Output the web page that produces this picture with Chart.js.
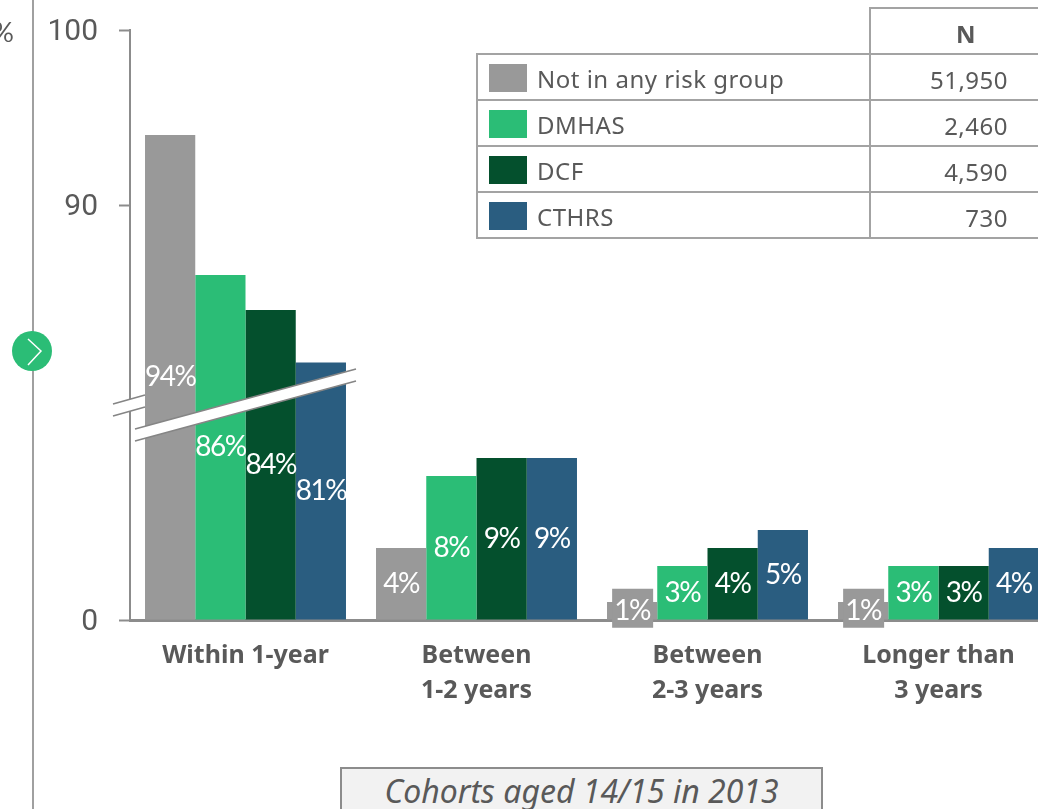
<!DOCTYPE html>
<html>
<head>
<meta charset="utf-8">
<title>Cohorts aged 14/15 in 2013</title>
<script src="https://cdn.jsdelivr.net/npm/chart.js@4"></script>
<style>
    html, body { margin: 0; padding: 0; background: #fff; }
    body { width: 1038px; height: 809px; overflow: hidden; position: relative; font-family: "Noto Sans", sans-serif; color: #595959; }
    #chart-canvas { position: absolute; left: 0; top: 0; }
    #percent-sign { position: absolute; right: 1024px; top: 15px; font-family: Lato, sans-serif; font-size: 27px; white-space: nowrap; }
    #group-table { position: absolute; left: 476px; top: 7px; width: 595px; table-layout: fixed; border-collapse: collapse; font-size: 24px; letter-spacing: 0.5px; }
    #group-table td { border: 2px solid #a3a3a3; height: 46px; padding: 5px 0 0 0; box-sizing: border-box; line-height: 30px; }
    #group-table td.name { width: 395px; white-space: nowrap; }
    #group-table td.count { width: 200px; text-align: right; padding-right: 61px; }
    #group-table td.blank { border-top: none; border-left: none; }
    #group-table td.head { text-align: center; font-weight: bold; padding-right: 8px; }
    #group-table .swatch { display: inline-block; width: 38px; height: 28px; margin: 0 10px 0 11px; vertical-align: middle; position: relative; top: -3px; }
    #cohort-box { position: absolute; left: 340px; top: 767px; width: 483px; height: 60px; box-sizing: border-box; border: 2px solid #8c8c8c; background: #f2f2f2; text-align: center; font-style: italic; font-size: 32px; line-height: 44px; }
</style>
</head>
<body>
<canvas id="chart-canvas" width="1060" height="809"></canvas>
<div id="percent-sign">%</div>
<table id="group-table"></table>
<div id="cohort-box">Cohorts aged 14/15 in 2013</div>

<script>
var categories = [['Within 1-year'], ['Between', '1-2 years'], ['Between', '2-3 years'], ['Longer than', '3 years']];
var groupNames = ['Not in any risk group', 'DMHAS', 'DCF', 'CTHRS'];
var groupCounts = ['51,950', '2,460', '4,590', '730'];
var groupColors = ['#999999', '#2bbd76', '#04502d', '#2a5d80'];

var notInGroup = [94, 4, 1, 1];
var dmhas = [86, 8, 3, 3];
var dcf = [84, 9, 4, 3];
var cthrs = [81, 9, 5, 4];

var yTicks = [0, 90, 100];

// El eje va cortado: tramo bajo y tramo alto con un salto en medio
var breakValues = [0, 10, 80, 90, 100];
var breakFractions = [0, 180 / 590, 240 / 590, 415 / 590, 1];

class BrokenScale extends Chart.LinearScale {
    getPixelForValue(value) {
        for (var i = 1; i < breakValues.length; i++) {
            if (value <= breakValues[i]) {
                var t = (value - breakValues[i - 1]) / (breakValues[i] - breakValues[i - 1]);
                return this.getPixelForDecimal(breakFractions[i - 1] + t * (breakFractions[i] - breakFractions[i - 1]));
            }
        }
        return this.getPixelForDecimal(1);
    }
}
BrokenScale.id = 'brokenLinear';
BrokenScale.defaults = Chart.LinearScale.defaults;
Chart.register(BrokenScale);

// Tabla de grupos con sus colores y N
function buildGroupTable() {
    var html = '<tr><td class="blank"></td><td class="count head">N</td></tr>';
    for (var i = 0; i < groupNames.length; i++) {
        html += '<tr><td class="name"><span class="swatch" style="background:' + groupColors[i] + '"></span>' + groupNames[i] + '</td>' +
            '<td class="count">' + groupCounts[i] + '</td></tr>';
    }
    document.getElementById('group-table').innerHTML = html;
}

// Línea lateral y botón verde de la izquierda
var sidePlugin = {
    id: 'sideMarker',
    beforeDraw: function (chart) {
        var ctx = chart.ctx;
        ctx.save();
        ctx.strokeStyle = '#a0a0a0';
        ctx.lineWidth = 2;
        ctx.beginPath();
        ctx.moveTo(33, 0);
        ctx.lineTo(33, 809);
        ctx.stroke();
        ctx.fillStyle = '#2bbd76';
        ctx.beginPath();
        ctx.arc(32, 351, 20, 0, Math.PI * 2);
        ctx.fill();
        ctx.strokeStyle = '#fff';
        ctx.lineWidth = 1.5;
        ctx.beginPath();
        ctx.moveTo(28, 339);
        ctx.lineTo(41, 351);
        ctx.lineTo(28, 365);
        ctx.stroke();
        ctx.restore();
    }
};

// Franja blanca que marca el corte del eje y de las barras
function drawBand(ctx, x1, y1, x2, y2, gap) {
    ctx.fillStyle = '#fff';
    ctx.beginPath();
    ctx.moveTo(x1, y1);
    ctx.lineTo(x2, y2);
    ctx.lineTo(x2, y2 + gap);
    ctx.lineTo(x1, y1 + gap);
    ctx.closePath();
    ctx.fill();
    ctx.strokeStyle = '#858585';
    ctx.lineWidth = 1.6;
    ctx.beginPath();
    ctx.moveTo(x1, y1);
    ctx.lineTo(x2, y2);
    ctx.moveTo(x1, y1 + gap);
    ctx.lineTo(x2, y2 + gap);
    ctx.stroke();
}

var breakPlugin = {
    id: 'axisBreak',
    afterDatasetsDraw: function (chart) {
        var ctx = chart.ctx;
        ctx.save();
        drawBand(ctx, 113, 404, 145, 395, 12);
        drawBand(ctx, 135, 429, 356, 369, 12);
        ctx.restore();
    }
};

// Etiquetas de porcentaje centradas en cada barra
var labelPlugin = {
    id: 'barLabels',
    afterDatasetsDraw: function (chart) {
        var ctx = chart.ctx;
        ctx.save();
        ctx.font = '28px Lato, sans-serif';
        ctx.letterSpacing = '-1.5px';
        ctx.textAlign = 'center';
        ctx.textBaseline = 'middle';
        chart.data.datasets.forEach(function (dataset, d) {
            chart.getDatasetMeta(d).data.forEach(function (bar, i) {
                var value = dataset.data[i];
                var cy = (bar.y + bar.base) / 2;
                if (value < 2) {
                    // Las barras muy bajas llevan la etiqueta sobre una caja gris
                    ctx.fillStyle = dataset.backgroundColor;
                    ctx.fillRect(bar.x - 20, cy - 22, 41, 39);
                }
                ctx.fillStyle = '#fff';
                ctx.fillText(value + '%', bar.x, cy);
            });
        });
        ctx.restore();
    }
};

var seriesValues = [notInGroup, dmhas, dcf, cthrs];
var datasets = seriesValues.map(function (values, i) {
    return {
        label: groupNames[i],
        data: values,
        backgroundColor: groupColors[i],
        borderWidth: 0,
        categoryPercentage: 0.87,
        barPercentage: 1
    };
});

buildGroupTable();

new Chart(document.getElementById('chart-canvas'), {
    type: 'bar',
    data: { labels: categories, datasets: datasets },
    plugins: [sidePlugin, breakPlugin, labelPlugin],
    options: {
        responsive: false,
        animation: false,
        layout: { padding: { top: 30, right: 6, left: 0, bottom: 0 } },
        plugins: { legend: { display: false }, tooltip: { enabled: false } },
        scales: {
            x: {
                afterFit: function (scale) { scale.height = 189; },
                grid: { display: true, drawOnChartArea: false, drawTicks: false },
                border: { color: '#8c8c8c', width: 3 },
                ticks: {
                    padding: 18,
                    maxRotation: 0,
                    autoSkip: false,
                    color: '#595959',
                    font: { family: '"Noto Sans", sans-serif', size: 25, weight: 'bold', lineHeight: 1.4 }
                }
            },
            y: {
                type: 'brokenLinear',
                min: 0,
                max: 100,
                afterFit: function (scale) {
                    scale.width = 130;
                    scale.paddingTop = 0;
                    scale.paddingBottom = 0;
                },
                afterBuildTicks: function (scale) {
                    scale.ticks = yTicks.map(function (v) { return { value: v }; });
                },
                grid: { drawOnChartArea: false, tickLength: 11, tickWidth: 2, tickColor: '#8c8c8c', color: '#8c8c8c' },
                border: { color: '#8c8c8c', width: 2 },
                ticks: {
                    padding: 21,
                    labelOffset: 2,
                    color: '#595959',
                    font: { family: 'Roboto, sans-serif', size: 30, weight: 400 }
                }
            }
        }
    }
});
</script>
</body>
</html>
